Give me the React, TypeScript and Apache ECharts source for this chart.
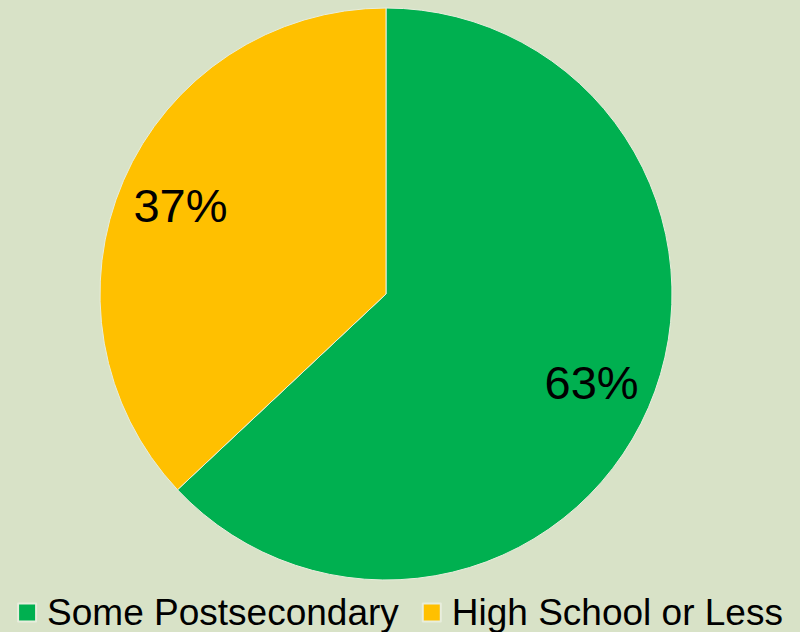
import React, { useEffect, useRef } from "react";
import * as echarts from "echarts";

const categories = ["Some Postsecondary", "High School or Less"];
const values = [63, 37];
const colors = ["#00B050", "#FFC000"];

export default function App() {
  const ref = useRef<HTMLDivElement>(null);
  useEffect(() => {
    document.body.style.margin = "0";
    const chart = echarts.init(ref.current!, null, { renderer: "svg" });
    const data = categories.map((name, i) => ({ name, value: values[i], itemStyle: { color: colors[i] } }));
    chart.setOption({
      animation: false,
      backgroundColor: "#D8E2C7",
      legend: {
        data: categories,
        left: "center",
        top: 594,
        padding: 0,
        itemWidth: 18,
        itemHeight: 18,
        itemGap: 23,
        icon: "rect",
        textStyle: {
          fontFamily: "Liberation Sans, Arial, sans-serif",
          fontSize: 37,
          lineHeight: 37,
          color: "#000",
          padding: [0, 0, 0, 6],
        },
      },
      series: [
        {
          type: "pie",
          center: [386, 294],
          radius: [0, 286],
          startAngle: 90,
          clockwise: true,
          label: { show: false },
          labelLine: { show: false },
          itemStyle: { borderColor: "#E8EEDD", borderWidth: 1 },
          data,
        },
        {
          type: "pie",
          center: [386, 294],
          radius: [0, 442],
          startAngle: 90,
          clockwise: true,
          silent: true,
          itemStyle: { color: "transparent", borderWidth: 0 },
          label: {
            show: true,
            position: "inside",
            formatter: "{c}%",
            fontFamily: "Liberation Sans, Arial, sans-serif",
            fontSize: 47,
            color: "#000",
          },
          labelLine: { show: false },
          data: categories.map((name, i) => ({ name, value: values[i] })),
        },
      ],
    });
    return () => chart.dispose();
  }, []);
  return <div ref={ref} style={{ width: 800, height: 632 }} />;
}
